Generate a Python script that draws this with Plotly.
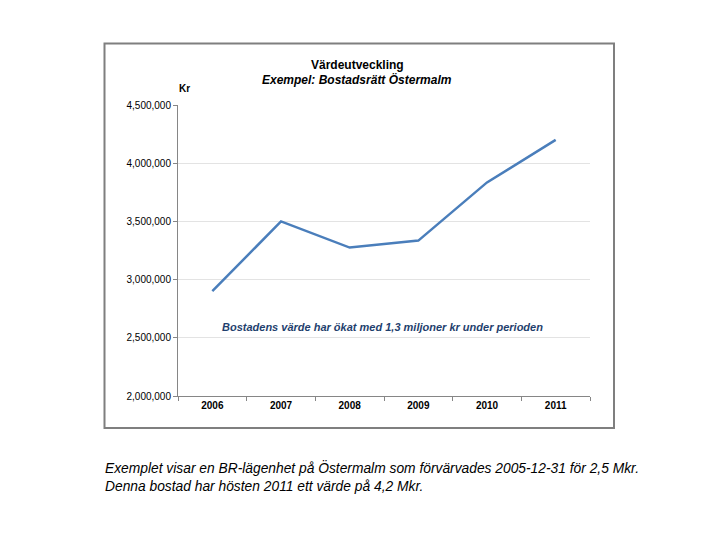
import plotly.graph_objects as go

years = ["2006", "2007", "2008", "2009", "2010", "2011"]
values = [2900000, 3500000, 3275000, 3335000, 3835000, 4200000]
y_ticks = [2000000, 2500000, 3000000, 3500000, 4000000, 4500000]
y_ticklabels = ["2,000,000", "2,500,000", "3,000,000", "3,500,000", "4,000,000", "4,500,000"]

title_line1 = "Värdeutveckling"
title_line2 = "Exempel: Bostadsrätt Östermalm"
y_unit = "Kr"
note = "Bostadens värde har ökat med 1,3 miljoner kr under perioden"
note_y = 2593000
caption = ("Exemplet visar en BR-lägenhet på Östermalm som förvärvades 2005-12-31 för 2,5 Mkr.<br>"
           "Denna bostad har hösten 2011 ett värde på 4,2 Mkr.")

FONT = "Liberation Sans, Arial, sans-serif"

fig = go.Figure()
fig.add_trace(go.Scatter(
    x=years, y=values, mode="lines",
    line=dict(color="#4A7EBB", width=2.5),
    showlegend=False, hoverinfo="skip",
))

# page body has an 8px margin; lay out in window coordinates
OFF = 8
W, H = 720 - 2 * OFF, 540 - 2 * OFF
PL, PR, PT, PB = 178, 590, 105, 396  # plot area in window px
PW, PH = PR - PL, PB - PT
L, T = PL - OFF, PT - OFF
R, B = W - L - PW, H - T - PH

def px(x):
    return (x - PL) / PW

def py(y):
    return (PB - y) / PH

fig.update_layout(
    width=W, height=H,
    margin=dict(l=L, r=R, t=T, b=B, pad=0),
    paper_bgcolor="white", plot_bgcolor="white",
    font=dict(family=FONT, size=10, color="#000000"),
    xaxis=dict(
        type="category", tickson="boundaries", ticks="outside", ticklen=4,
        tickcolor="#868686", showline=True, linecolor="#868686", linewidth=1,
        showgrid=False, tickfont=dict(family=FONT, size=10, color="#000000", weight="bold"),
        range=[-0.5, 5.5], fixedrange=True,
    ),
    yaxis=dict(
        range=[2000000, 4500000], tickvals=y_ticks, ticktext=y_ticklabels,
        ticks="outside", ticklen=4, tickcolor="#868686",
        showline=True, linecolor="#868686", linewidth=1,
        showgrid=True, gridcolor="#E3E3E3", gridwidth=1, zeroline=False,
        tickfont=dict(family=FONT, size=10, color="#000000"),
        fixedrange=True,
    ),
)

fig.add_shape(
    type="rect", xref="paper", yref="paper",
    x0=px(104.5), x1=px(614), y0=py(428), y1=py(43.5),
    line=dict(color="#7F7F7F", width=2), fillcolor="rgba(0,0,0,0)", layer="above",
)

fig.add_annotation(
    text=title_line1, xref="paper", yref="paper", x=px(357), y=py(65),
    xanchor="center", yanchor="middle", showarrow=False,
    font=dict(family=FONT, size=12, color="#000000", weight="bold"),
)
fig.add_annotation(
    text="<i>" + title_line2 + "</i>", xref="paper", yref="paper", x=px(357), y=py(79),
    xanchor="center", yanchor="middle", showarrow=False,
    font=dict(family=FONT, size=12, color="#000000", weight="bold"),
)
fig.add_annotation(
    text=y_unit, xref="paper", yref="paper", x=px(177), y=py(88),
    xanchor="left", yanchor="middle", showarrow=False,
    font=dict(family=FONT, size=10, color="#000000", weight="bold"),
)
fig.add_annotation(
    text="<i>" + note + "</i>", xref="paper", yref="y", x=px(382), y=note_y,
    xanchor="center", yanchor="middle", showarrow=False,
    font=dict(family=FONT, size=11, color="#1F3F6E", weight="bold"),
)
fig.add_annotation(
    text="<i>" + caption + "</i>", xref="paper", yref="paper", x=px(103), y=py(476.5),
    xanchor="left", yanchor="middle", align="left", showarrow=False,
    font=dict(family=FONT, size=13.8, color="#000000"),
)

fig.write_html("out.html")
